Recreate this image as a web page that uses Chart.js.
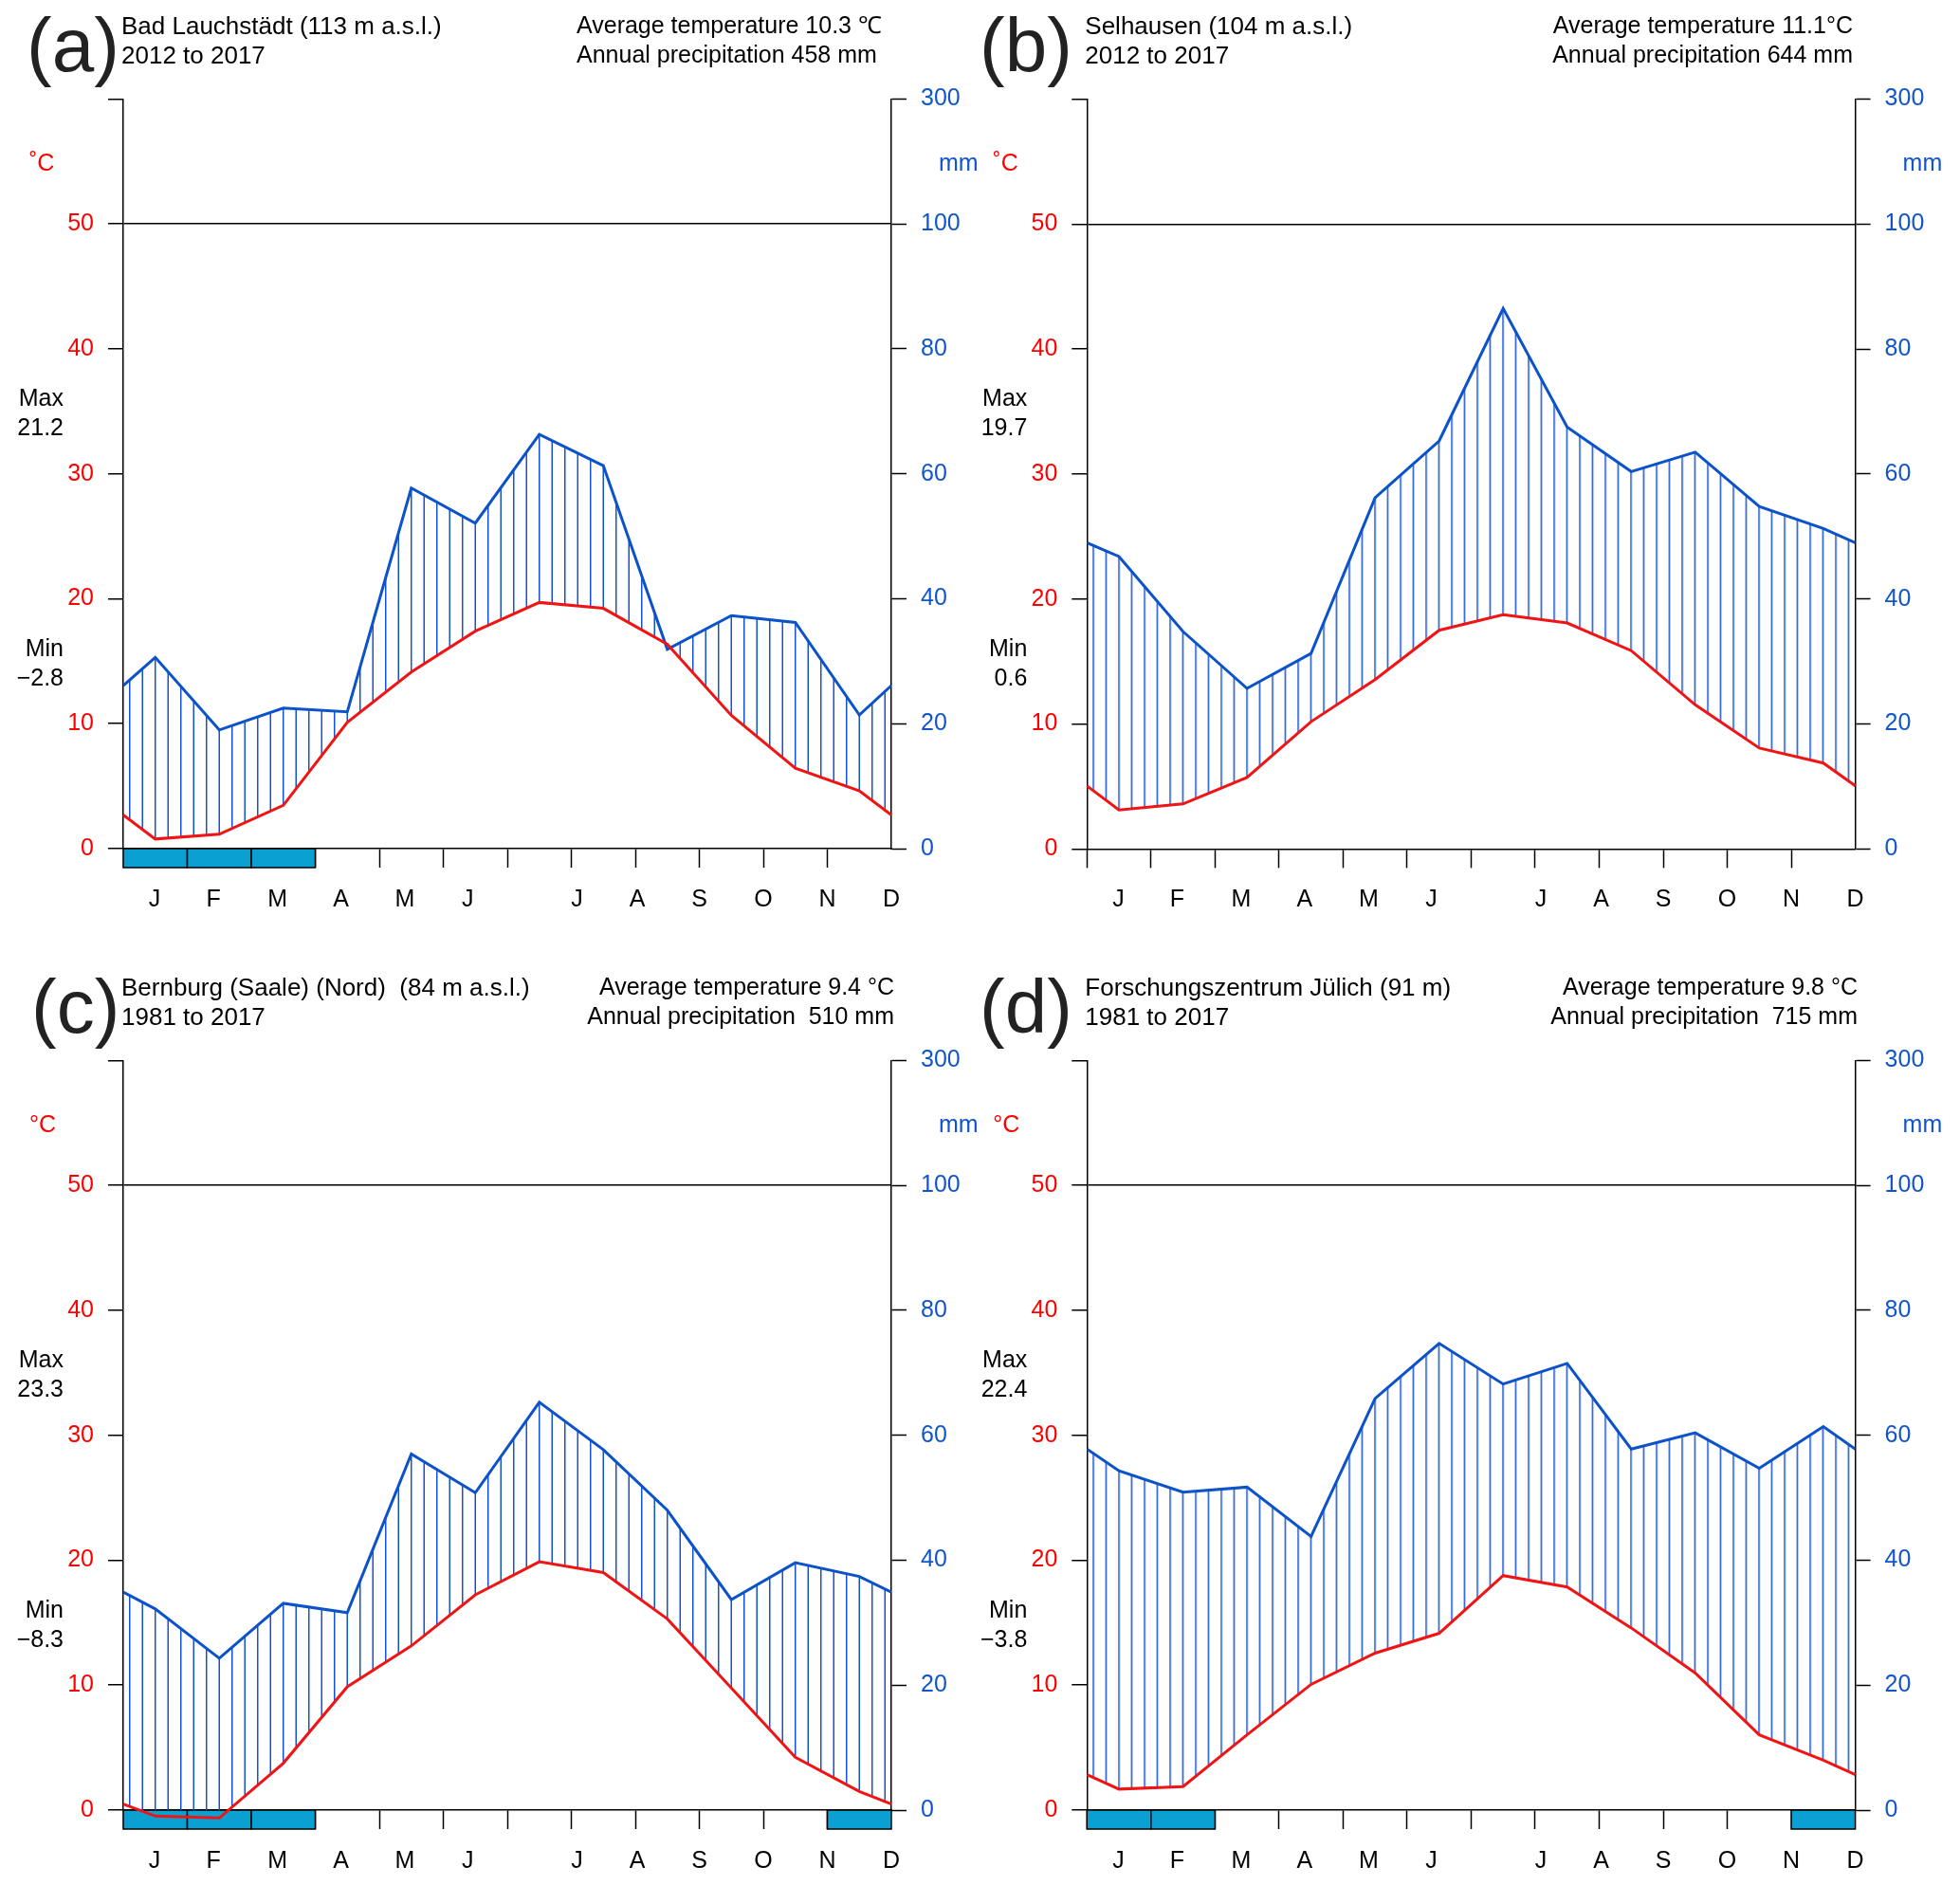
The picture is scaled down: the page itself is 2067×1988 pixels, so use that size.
<!DOCTYPE html>
<html><head><meta charset="utf-8">
<script src="https://cdn.jsdelivr.net/npm/chart.js@4.4.1/dist/chart.umd.min.js"></script>
<style>
body{margin:0;background:#fff;width:2067px;height:1988px;position:relative;overflow:hidden}
canvas{position:absolute}
</style></head>
<body>
<canvas id="ca" width="1033" height="994" style="left:0;top:0"></canvas>
<canvas id="cb" width="1034" height="994" style="left:1033px;top:0"></canvas>
<canvas id="cc" width="1033" height="994" style="left:0;top:994px"></canvas>
<canvas id="cd" width="1034" height="994" style="left:1033px;top:994px"></canvas>
<script>
// ---- data ----
// x positions (months): wrap-around start, mid-months, wrap-around end
const monthX = [0,0.5,1.5,2.5,3.5,4.5,5.5,6.5,7.5,8.5,9.5,10.5,11.5,12];
const monthLabels = ['J','F','M','A','M','J','J','A','S','O','N','D'];
const monthLabelPos = [0.49,1.41,2.41,3.40,4.40,5.38,7.09,8.03,9.0,10.0,11.0,12.0];
const monthTicks = [0,1,2,3,4,5,6,7,8,9,10,11];
const tempTicks = [0,10,20,30,40,50,60];
const tempTickLabels = ['0','10','20','30','40','50',''];
const precipTicks = [0,20,40,60,80,100,120];
const precipTickLabels = ['0','20','40','60','80','100','300'];

const tempA   = [2.69,0.77,1.15,3.46,10.1,14.13,17.4,19.7,19.23,16.35,10.67,6.44,4.62,2.69];
const precipA = [26.1,30.6,19.0,22.5,21.9,57.7,52.1,66.3,61.3,31.9,37.3,36.2,21.4,26.1];
const frostA  = [0,1,2];

const tempB   = [5.05,3.13,3.61,5.72,10.19,13.56,17.5,18.75,18.08,15.87,11.54,8.08,6.88,5.05];
const precipB = [49.0,46.8,34.8,25.7,31.3,56.2,65.3,86.5,67.5,60.4,63.5,54.8,51.3,49.0];
const frostB  = [];

const tempC   = [0.48,-0.48,-0.63,3.75,9.87,13.14,17.23,19.88,19.01,15.3,9.77,4.23,1.49,0.48];
const precipC = [34.9,32.2,24.3,33.1,31.6,57.0,50.8,65.3,57.7,48.0,33.7,39.6,37.4,34.9];
const frostC  = [0,1,2,11];

const tempD   = [2.84,1.68,1.88,6.02,10.06,12.56,14.15,18.77,17.85,14.58,10.97,6.02,3.99,2.84];
const precipD = [57.8,54.3,50.9,51.7,43.8,65.9,74.7,68.2,71.5,57.8,60.4,54.7,61.4,57.8];
const frostD  = [0,1,11];

// ---- styles ----
const FONT = '"Liberation Sans", Arial, Helvetica, sans-serif';
const RED = '#ff0000';
const RED_LINE = '#f01414';
const BLUE = '#1155cc';
const BLUE_LINE = '#0c52c8';
const HATCH = '#1552d0';
const FROST = '#0aa0d2';

function hatchPattern(canvasId, offsetX){
  const c = document.createElement('canvas');
  c.width = 27; c.height = 8;
  const g = c.getContext('2d');
  g.strokeStyle = HATCH; g.lineWidth = 1.5;
  [6.75, 20.25].forEach(px => { g.beginPath(); g.moveTo(px,0); g.lineTo(px,8); g.stroke(); });
  const p = document.getElementById(canvasId).getContext('2d').createPattern(c, 'repeat');
  p.setTransform(new DOMMatrix().translate(offsetX, 0));
  return p;
}

const climatePlugin = {
  id: 'climate',
  beforeDatasetsDraw(chart, args, o){
    const {ctx, scales:{x, y}} = chart;
    const y0 = y.getPixelForValue(0);
    ctx.save();
    o.frost.forEach(m => {
      const x1 = x.getPixelForValue(m), x2 = x.getPixelForValue(m+1);
      ctx.fillStyle = FROST; ctx.fillRect(x1, y0, x2-x1, 20);
      ctx.strokeStyle = '#000'; ctx.lineWidth = 1.5; ctx.strokeRect(x1, y0, x2-x1, 20);
    });
    ctx.restore();
  },
  afterDraw(chart, args, o){
    const {ctx, chartArea:a, scales:{x, y}} = chart;
    const y0 = y.getPixelForValue(0);
    ctx.save();
    ctx.textBaseline = 'alphabetic';
    // panel letter
    ctx.fillStyle = '#222';
    ctx.font = '80px ' + FONT;
    ctx.textAlign = 'left';
    ctx.fillText(o.letter, o.letterX, a.top - 29.5);
    // titles
    ctx.fillStyle = '#000';
    ctx.font = '26px ' + FONT;
    ctx.fillText(o.title1, a.left - 2, a.top - 68.3);
    ctx.fillText(o.title2, a.left - 2, a.top - 37.6);
    ctx.font = '25px ' + FONT;
    ctx.textAlign = o.infoAlign;
    ctx.fillText(o.info1, o.infoX, a.top - 69.3);
    ctx.fillText(o.info2, o.infoX, a.top - 38.6);
    // Max / Min
    ctx.textAlign = 'right';
    ctx.fillText('Max', a.left - 63, y0 - 467.5);
    ctx.fillText(o.maxV, a.left - 63, y0 - 436);
    ctx.fillText('Min', a.left - 63, y0 - 203);
    ctx.fillText(o.minV, a.left - 63, y0 - 172.5);
    // unit labels
    ctx.textAlign = 'left';
    ctx.fillStyle = RED;
    ctx.fillText(o.deg, a.left - 99, a.top + 75.7);
    ctx.fillStyle = BLUE;
    ctx.fillText('mm', a.right + 50, a.top + 75.7);
    // month labels
    ctx.fillStyle = '#000';
    ctx.textAlign = 'center';
    monthLabels.forEach((m, i) => ctx.fillText(m, x.getPixelForValue(monthLabelPos[i]), y0 + 60.7));
    ctx.restore();
  }
};

function makePanel(id, g, temp, precip, frost, txt){
  const pattern = hatchPattern(id, g.left);
  const tickFont = {size: 25, family: FONT};
  return new Chart(document.getElementById(id), {
    type: 'line',
    data: {
      datasets: [
        {label:'Temperature', data: monthX.map((v,i)=>({x:v, y:temp[i]})), yAxisID:'y',
         borderColor: RED_LINE, borderWidth: 3, pointRadius: 0, tension: 0, fill: false, clip: false},
        {label:'Precipitation', data: monthX.map((v,i)=>({x:v, y:precip[i]})), yAxisID:'y2',
         borderColor: BLUE_LINE, borderWidth: 3, pointRadius: 0, tension: 0,
         fill: {target: 0, above: pattern, below: 'rgba(0,0,0,0)'}}
      ]
    },
    options: {
      responsive: false, animation: false, devicePixelRatio: 1,
      layout: {padding: {top: g.top, left: 0, right: 0, bottom: 0}},
      plugins: {legend: {display: false}, tooltip: {enabled: false},
        climate: Object.assign({frost: frost}, txt)},
      scales: {
        x: {type: 'linear', min: 0, max: 12,
          afterBuildTicks: s => { s.ticks = monthTicks.map(v => ({value: v})); },
          afterFit: s => { s.height = g.bottomH; },
          grid: {drawOnChartArea: false, drawTicks: true, tickLength: 20, tickColor: '#000', tickWidth: 1.5, color: '#000'},
          border: {display: true, color: '#000', width: 1.5},
          ticks: {callback: () => '', padding: 0}},
        y: {position: 'left', min: 0, max: 60,
          afterBuildTicks: s => { s.ticks = tempTicks.map(v => ({value: v})); },
          afterFit: s => { s.width = g.left; },
          grid: {color: c => (c.tick && c.tick.value === 50) ? '#000' : 'rgba(0,0,0,0)',
                 lineWidth: 1.5, tickColor: '#000', tickLength: 16, tickWidth: 1.5},
          border: {display: true, color: '#000', width: 1.5},
          ticks: {color: RED, font: tickFont, padding: 15,
                  callback: v => tempTickLabels[tempTicks.indexOf(v)]}},
        y2: {position: 'right', min: 0, max: 120,
          afterBuildTicks: s => { s.ticks = precipTicks.map(v => ({value: v})); },
          afterFit: s => { s.width = g.rightW; },
          grid: {drawOnChartArea: false, tickColor: '#000', tickLength: 16, tickWidth: 1.5},
          border: {display: true, color: '#000', width: 1.5},
          ticks: {color: BLUE, font: tickFont, padding: 15,
                  callback: v => precipTickLabels[precipTicks.indexOf(v)]}}
      }
    },
    plugins: [climatePlugin]
  });
}

makePanel('ca', {left:130, rightW:93, top:104.3, bottomH:99}, tempA, precipA, frostA, {
  letter:'(a)', letterX:28, title1:'Bad Lauchstädt (113 m a.s.l.)', title2:'2012 to 2017',
  info1:'Average temperature 10.3 \u2103', info2:'Annual precipitation 458 mm', infoAlign:'left', infoX:608,
  maxV:'21.2', minV:'\u22122.8', deg:'\u02DAC'});
makePanel('cb', {left:113.3, rightW:110.4, top:104.5, bottomH:98.6}, tempB, precipB, frostB, {
  letter:'(b)', letterX:0, title1:'Selhausen (104 m a.s.l.)', title2:'2012 to 2017',
  info1:'Average temperature 11.1\u00B0C', info2:'Annual precipitation 644 mm', infoAlign:'right', infoX:921,
  maxV:'19.7', minV:'0.6', deg:'\u02DAC'});
makePanel('cc', {left:130, rightW:93, top:124.4, bottomH:79}, tempC, precipC, frostC, {
  letter:'(c)', letterX:33, title1:'Bernburg (Saale) (Nord)  (84 m a.s.l.)', title2:'1981 to 2017',
  info1:'Average temperature 9.4 \u00B0C', info2:'Annual precipitation  510 mm', infoAlign:'right', infoX:943,
  maxV:'23.3', minV:'\u22128.3', deg:'\u00B0C'});
makePanel('cd', {left:113.3, rightW:110.4, top:124.4, bottomH:79}, tempD, precipD, frostD, {
  letter:'(d)', letterX:0, title1:'Forschungszentrum Jülich (91 m)', title2:'1981 to 2017',
  info1:'Average temperature 9.8 \u00B0C', info2:'Annual precipitation  715 mm', infoAlign:'right', infoX:926,
  maxV:'22.4', minV:'\u22123.8', deg:'\u00B0C'});
</script>
</body></html>
